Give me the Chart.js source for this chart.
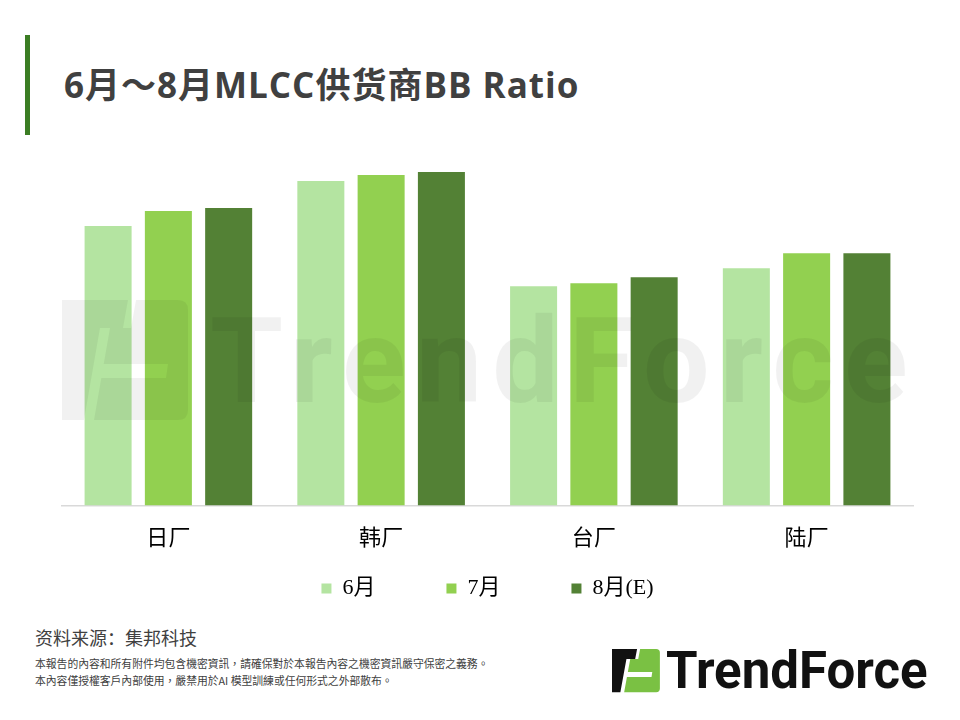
<!DOCTYPE html>
<html>
<head>
<meta charset="utf-8">
<script src="https://cdn.jsdelivr.net/npm/chart.js@4.4.0/dist/chart.umd.min.js"></script>
<style>
  html, body { margin: 0; padding: 0; background: #fff; }
  #page { position: relative; width: 960px; height: 720px; overflow: hidden; background: #fff; }
  #wrap { position: absolute; left: 0; top: 0; width: 960px; height: 720px; z-index: 1; }
  .abs { position: absolute; }
  #bar { left: 25px; top: 35px; width: 5px; height: 100px; background: #3b7d23; }
  #title { left: 64px; top: 67px; font: bold 35px/1 "Open Sans", "Noto Sans CJK SC", sans-serif; color: #404040; white-space: nowrap; letter-spacing: 1px; }
  #source { left: 35px; top: 624px; font: 18px "Noto Sans CJK SC", sans-serif; color: #404040; }
  #note { left: 35px; top: 655px; font: 10.8px/17px "Noto Sans CJK TC", sans-serif; color: #404040; white-space: nowrap; }
  #wm { left: 0; top: 0; z-index: 3; pointer-events: none; }
  #wmtext { left: 210px; top: 303px; font: bold 118px/1 Roboto, sans-serif; color: rgba(0,0,0,0.055); letter-spacing: 10.3px; z-index: 3; white-space: nowrap; pointer-events: none; }
  #logo { left: 0; top: 0; z-index: 4; }
  #logotext { left: 666px; top: 645px; font: bold 51px/1 Roboto, sans-serif; color: #111; z-index: 4; white-space: nowrap; }
</style>
</head>
<body>
<div id="page">
  <div id="wrap"><canvas id="chart"></canvas></div>
  <svg id="wm" class="abs" width="960" height="720">
    <defs>
      <path id="iconA" d="M0,0 H66 L61,28 H38 L22,120 H0 Z"/>
      <path id="iconB" d="M74,0 H116 Q126,0 126,10 V110 Q126,120 116,120 H32 L39.3,78 H104 L106,64 H41.7 L48,28 H69 Z"/>
    </defs>
    <g transform="translate(62,300)" fill="rgba(0,0,0,0.055)">
      <use href="#iconA"/>
      <use href="#iconB"/>
    </g>
  </svg>
  <div id="wmtext" class="abs">TrendForce</div>
  <div id="bar" class="abs"></div>
  <div id="title" class="abs">6月～8月MLCC供货商BB Ratio</div>
  <div id="source" class="abs">资料来源：集邦科技</div>
  <div id="note" class="abs">本報告的內容和所有附件均包含機密資訊，請確保對於本報告內容之機密資訊嚴守保密之義務。<br>本內容僅授權客戶內部使用，嚴禁用於AI 模型訓練或任何形式之外部散布。</div>
  <svg id="logo" class="abs" width="960" height="720">
    <g transform="translate(612,649) scale(0.38,0.36)">
      <use href="#iconA" fill="#111"/>
      <use href="#iconB" fill="#7ac143"/>
    </g>
  </svg>
  <div id="logotext" class="abs">TrendForce</div>
</div>
<script>
// Categories and series
const categories = ['日厂', '韩厂', '台厂', '陆厂'];
const seriesNames = ['6月', '7月', '8月(E)'];
const june = [0.93, 1.08, 0.73, 0.79];
const july = [0.98, 1.10, 0.74, 0.84];
const augustE = [0.99, 1.11, 0.76, 0.84];
const seriesColors = ['#b4e4a1', '#92d050', '#538135'];

const labelFont = { family: '"Liberation Serif", "Noto Sans CJK SC", serif', size: 22 };

// The legend padding is wide (for the horizontal gaps), so pull the legend
// box up right under the axis line; the x labels are drawn over it anyway.
const legendLift = {
  id: 'legendLift',
  afterLayout(chart) {
    const legend = chart.legend;
    const shift = legend.top - (chart.scales.x.top + 1);
    legend.top -= shift;
    legend.bottom -= shift;
  }
};

const ctx = document.getElementById('chart').getContext('2d');
const chart = new Chart(ctx, {
  type: 'bar',
  data: {
    labels: categories,
    datasets: [june, july, augustE].map((values, i) => ({
      label: seriesNames[i],
      data: values,
      backgroundColor: seriesColors[i],
      borderWidth: 0,
      categoryPercentage: 0.85,
      barPercentage: 0.78
    }))
  },
  options: {
    responsive: true,
    maintainAspectRatio: false,
    animation: false,
    layout: {
      padding: { left: 62, right: 47, top: 160, bottom: 45 }
    },
    scales: {
      x: {
        grid: { display: false, drawTicks: false },
        border: { display: true, color: '#d9d9d9', width: 1.5 },
        ticks: { padding: 20, color: '#000', font: labelFont }
      },
      y: {
        display: false,
        min: 0,
        max: 1.15
      }
    },
    plugins: {
      title: { display: false },
      tooltip: { enabled: false },
      legend: {
        display: true,
        position: 'bottom',
        labels: {
          boxWidth: 10,
          boxHeight: 10,
          padding: 71,
          color: '#000',
          font: labelFont
        }
      }
    }
  },
  plugins: [legendLift]
});
</script>
</body>
</html>
